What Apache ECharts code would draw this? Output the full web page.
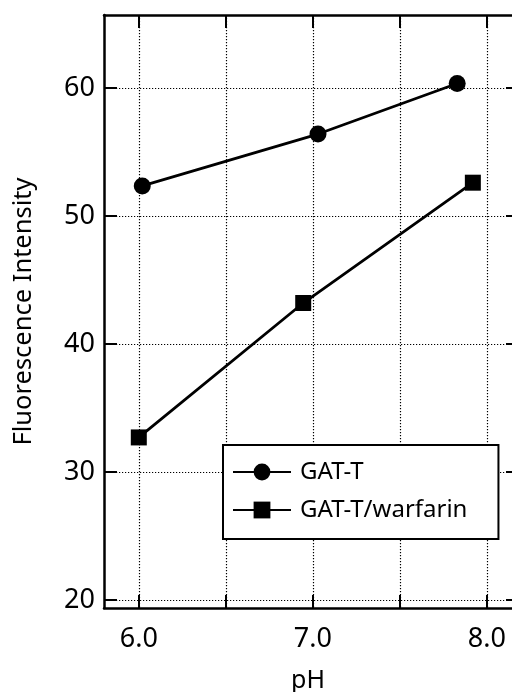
<!DOCTYPE html>
<html>
<head>
<meta charset="utf-8">
<script src="https://cdn.jsdelivr.net/npm/echarts@6/dist/echarts.min.js"></script>
<style>
html,body{margin:0;padding:0;background:#fff;}
#chart{width:512px;height:692px;}
</style>
</head>
<body>
<div id="chart"></div>
<script>
// Data
var seriesNames = ['GAT-T', 'GAT-T/warfarin'];
var gatX = [6.02, 7.03, 7.83];
var gatY = [52.35, 56.4, 60.35];
var warfX = [6.0, 6.945, 7.92];
var warfY = [32.7, 43.2, 52.6];
var xTicks = [6.0, 6.5, 7.0, 7.5, 8.0];
var xLabels = [6.0, 7.0, 8.0];
var yTicks = [20, 30, 40, 50, 60];

function pairs(xs, ys) {
  return xs.map(function (x, i) { return [x, ys[i]]; });
}

var FONT = 'Noto Sans';
var chart = echarts.init(document.getElementById('chart'), null, {renderer: 'canvas'});

var gridLine = {show: true, lineStyle: {color: '#000', width: 1.2, type: [1.2, 1.8]}};
var axisLineStyle = {show: true, lineStyle: {color: '#000', width: 2.5}};

var option = {
  backgroundColor: '#fff',
  animation: false,
  grid: {left: 104, top: 15, right: 0, bottom: 84, containLabel: false, outerBoundsMode: 'none'},
  legend: {
    left: 223, top: 445,
    orient: 'vertical',
    data: seriesNames,
    backgroundColor: '#fff',
    borderColor: '#000',
    borderWidth: 2,
    borderRadius: 0,
    padding: [15, 31, 17, 9],
    itemWidth: 58,
    itemHeight: 21,
    itemGap: 14,
    textStyle: {fontFamily: FONT, fontSize: 24, color: '#000', lineHeight: 23, padding: [0, 0, 0, 4]},
    z: 10
  },
  xAxis: [{
    type: 'value',
    position: 'bottom',
    min: 5.8, max: 8.145,
    name: 'pH',
    nameLocation: 'middle',
    nameGap: 60,
    nameTextStyle: {fontFamily: FONT, fontSize: 25, color: '#000'},
    axisLine: axisLineStyle,
    axisTick: {show: true, inside: true, length: 13, customValues: xTicks, lineStyle: {color: '#000', width: 2}},
    axisLabel: {show: true, customValues: xLabels, margin: 18, fontFamily: FONT, fontSize: 27, color: '#000',
      formatter: function (v) { return Number(v).toFixed(1); }},
    splitLine: gridLine
  }, {
    type: 'value',
    position: 'top',
    min: 5.8, max: 8.145,
    axisLine: axisLineStyle,
    axisTick: {show: true, inside: true, length: 13, customValues: xTicks, lineStyle: {color: '#000', width: 2}},
    axisLabel: {show: false},
    splitLine: {show: false}
  }],
  yAxis: [{
    type: 'value',
    position: 'left',
    min: 19.375, max: 65.7,
    name: 'Fluorescence Intensity',
    nameLocation: 'middle',
    nameGap: 67,
    nameRotate: 90,
    nameTextStyle: {fontFamily: FONT, fontSize: 25.5, color: '#000'},
    axisLine: axisLineStyle,
    axisTick: {show: true, inside: true, length: 13, customValues: yTicks, lineStyle: {color: '#000', width: 2}},
    axisLabel: {show: true, customValues: yTicks, margin: 9, fontFamily: FONT, fontSize: 27, color: '#000'},
    splitLine: gridLine
  }, {
    type: 'value',
    position: 'right',
    min: 19.375, max: 65.7,
    axisLine: {show: false},
    axisTick: {show: true, inside: true, length: 6, customValues: yTicks, lineStyle: {color: '#000', width: 2}},
    axisLabel: {show: false},
    splitLine: {show: false}
  }],
  series: [{
    name: seriesNames[0],
    type: 'line',
    data: pairs(gatX, gatY),
    symbol: 'circle',
    symbolSize: 17,
    itemStyle: {color: '#000'},
    lineStyle: {color: '#000', width: 2.8},
    z: 5
  }, {
    name: seriesNames[1],
    type: 'line',
    data: pairs(warfX, warfY),
    symbol: 'rect',
    symbolSize: 16,
    itemStyle: {color: '#000'},
    lineStyle: {color: '#000', width: 2.8},
    z: 5
  }]
};
chart.setOption(option);
</script>
</body>
</html>
